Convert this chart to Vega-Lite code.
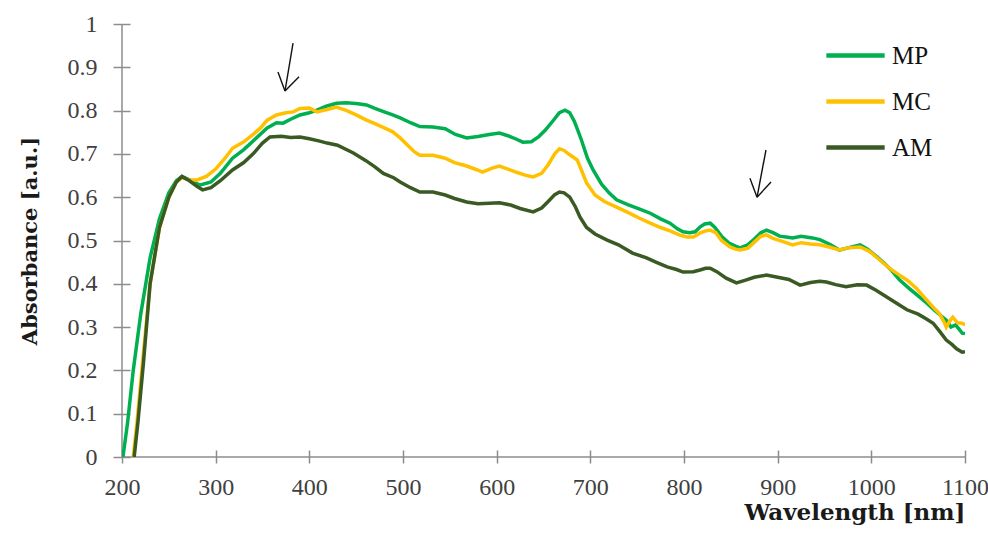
{
  "$schema": "https://vega.github.io/schema/vega-lite/v6.json",
  "width": 843,
  "height": 433,
  "autosize": {"type": "none"},
  "padding": {"left": 122, "top": 24, "right": 23, "bottom": 76},
  "background": "white",
  "config": {"view": {"stroke": null}},
  "datasets": {
    "axes": [
      {"x": 200, "y": 0, "x2": 200, "y2": 1},
      {"x": 200, "y": 0, "x2": 1100, "y2": 0}
    ],
    "arrows": [
      {"x": 382.6, "y": 0.956, "x2": 374, "y2": 0.845},
      {"x": 366.5, "y": 0.889, "x2": 374, "y2": 0.845},
      {"x": 389, "y": 0.878, "x2": 374, "y2": 0.845},
      {"x": 887.5, "y": 0.709, "x2": 878, "y2": 0.6},
      {"x": 870.4, "y": 0.644, "x2": 878, "y2": 0.6},
      {"x": 892.9, "y": 0.635, "x2": 878, "y2": 0.6}
    ],
    "spectra": [
      {"s":"MP","w":201,"a":0},{"s":"MP","w":206,"a":0.08},{"s":"MP","w":212,"a":0.2},{"s":"MP","w":220,"a":0.33},{"s":"MP","w":230,"a":0.46},{"s":"MP","w":240,"a":0.55},{"s":"MP","w":250,"a":0.61},{"s":"MP","w":258,"a":0.638},{"s":"MP","w":264,"a":0.648},{"s":"MP","w":272,"a":0.64},{"s":"MP","w":283,"a":0.628},{"s":"MP","w":295,"a":0.635},{"s":"MP","w":305,"a":0.655},{"s":"MP","w":318,"a":0.69},{"s":"MP","w":330,"a":0.71},{"s":"MP","w":340,"a":0.73},{"s":"MP","w":355,"a":0.76},{"s":"MP","w":365,"a":0.772},{"s":"MP","w":372,"a":0.771},{"s":"MP","w":380,"a":0.78},{"s":"MP","w":390,"a":0.79},{"s":"MP","w":400,"a":0.795},{"s":"MP","w":408,"a":0.801},{"s":"MP","w":418,"a":0.81},{"s":"MP","w":429,"a":0.817},{"s":"MP","w":440,"a":0.818},{"s":"MP","w":452,"a":0.816},{"s":"MP","w":461,"a":0.813},{"s":"MP","w":470,"a":0.805},{"s":"MP","w":480,"a":0.797},{"s":"MP","w":489,"a":0.79},{"s":"MP","w":497,"a":0.783},{"s":"MP","w":508,"a":0.772},{"s":"MP","w":518,"a":0.763},{"s":"MP","w":532,"a":0.762},{"s":"MP","w":545,"a":0.758},{"s":"MP","w":556,"a":0.745},{"s":"MP","w":568,"a":0.737},{"s":"MP","w":580,"a":0.74},{"s":"MP","w":592,"a":0.745},{"s":"MP","w":603,"a":0.748},{"s":"MP","w":612,"a":0.742},{"s":"MP","w":620,"a":0.735},{"s":"MP","w":628,"a":0.727},{"s":"MP","w":637,"a":0.728},{"s":"MP","w":645,"a":0.74},{"s":"MP","w":652,"a":0.755},{"s":"MP","w":660,"a":0.776},{"s":"MP","w":667,"a":0.795},{"s":"MP","w":673,"a":0.801},{"s":"MP","w":678,"a":0.795},{"s":"MP","w":683,"a":0.775},{"s":"MP","w":690,"a":0.735},{"s":"MP","w":697,"a":0.69},{"s":"MP","w":703,"a":0.663},{"s":"MP","w":712,"a":0.63},{"s":"MP","w":720,"a":0.61},{"s":"MP","w":728,"a":0.594},{"s":"MP","w":740,"a":0.583},{"s":"MP","w":752,"a":0.573},{"s":"MP","w":764,"a":0.563},{"s":"MP","w":775,"a":0.55},{"s":"MP","w":785,"a":0.54},{"s":"MP","w":793,"a":0.527},{"s":"MP","w":799,"a":0.52},{"s":"MP","w":806,"a":0.518},{"s":"MP","w":812,"a":0.52},{"s":"MP","w":817,"a":0.531},{"s":"MP","w":822,"a":0.538},{"s":"MP","w":828,"a":0.54},{"s":"MP","w":833,"a":0.53},{"s":"MP","w":840,"a":0.51},{"s":"MP","w":848,"a":0.494},{"s":"MP","w":855,"a":0.487},{"s":"MP","w":860,"a":0.483},{"s":"MP","w":868,"a":0.49},{"s":"MP","w":876,"a":0.505},{"s":"MP","w":882,"a":0.518},{"s":"MP","w":888,"a":0.524},{"s":"MP","w":895,"a":0.518},{"s":"MP","w":902,"a":0.51},{"s":"MP","w":909,"a":0.508},{"s":"MP","w":916,"a":0.506},{"s":"MP","w":925,"a":0.51},{"s":"MP","w":937,"a":0.506},{"s":"MP","w":945,"a":0.502},{"s":"MP","w":955,"a":0.492},{"s":"MP","w":966,"a":0.478},{"s":"MP","w":975,"a":0.483},{"s":"MP","w":988,"a":0.49},{"s":"MP","w":996,"a":0.48},{"s":"MP","w":1006,"a":0.462},{"s":"MP","w":1015,"a":0.445},{"s":"MP","w":1022,"a":0.43},{"s":"MP","w":1030,"a":0.409},{"s":"MP","w":1040,"a":0.39},{"s":"MP","w":1050,"a":0.372},{"s":"MP","w":1059,"a":0.356},{"s":"MP","w":1068,"a":0.338},{"s":"MP","w":1075,"a":0.325},{"s":"MP","w":1080,"a":0.316},{"s":"MP","w":1085,"a":0.3},{"s":"MP","w":1090,"a":0.305},{"s":"MP","w":1097,"a":0.286},{"s":"MP","w":1100,"a":0.285},
      {"s":"MC","w":212,"a":0},{"s":"MC","w":216,"a":0.08},{"s":"MC","w":222,"a":0.22},{"s":"MC","w":230,"a":0.4},{"s":"MC","w":240,"a":0.53},{"s":"MC","w":250,"a":0.6},{"s":"MC","w":258,"a":0.635},{"s":"MC","w":264,"a":0.645},{"s":"MC","w":272,"a":0.64},{"s":"MC","w":280,"a":0.64},{"s":"MC","w":290,"a":0.648},{"s":"MC","w":300,"a":0.665},{"s":"MC","w":310,"a":0.69},{"s":"MC","w":318,"a":0.713},{"s":"MC","w":330,"a":0.728},{"s":"MC","w":340,"a":0.745},{"s":"MC","w":348,"a":0.76},{"s":"MC","w":355,"a":0.778},{"s":"MC","w":365,"a":0.79},{"s":"MC","w":375,"a":0.795},{"s":"MC","w":383,"a":0.797},{"s":"MC","w":390,"a":0.805},{"s":"MC","w":400,"a":0.806},{"s":"MC","w":408,"a":0.797},{"s":"MC","w":418,"a":0.802},{"s":"MC","w":429,"a":0.808},{"s":"MC","w":440,"a":0.8},{"s":"MC","w":450,"a":0.79},{"s":"MC","w":461,"a":0.778},{"s":"MC","w":470,"a":0.77},{"s":"MC","w":480,"a":0.76},{"s":"MC","w":489,"a":0.751},{"s":"MC","w":497,"a":0.737},{"s":"MC","w":505,"a":0.72},{"s":"MC","w":512,"a":0.705},{"s":"MC","w":518,"a":0.697},{"s":"MC","w":532,"a":0.697},{"s":"MC","w":545,"a":0.69},{"s":"MC","w":555,"a":0.68},{"s":"MC","w":568,"a":0.672},{"s":"MC","w":578,"a":0.664},{"s":"MC","w":585,"a":0.658},{"s":"MC","w":595,"a":0.667},{"s":"MC","w":603,"a":0.672},{"s":"MC","w":612,"a":0.665},{"s":"MC","w":622,"a":0.657},{"s":"MC","w":632,"a":0.65},{"s":"MC","w":639,"a":0.647},{"s":"MC","w":648,"a":0.655},{"s":"MC","w":655,"a":0.675},{"s":"MC","w":662,"a":0.7},{"s":"MC","w":667,"a":0.712},{"s":"MC","w":672,"a":0.708},{"s":"MC","w":678,"a":0.698},{"s":"MC","w":686,"a":0.686},{"s":"MC","w":691,"a":0.66},{"s":"MC","w":696,"a":0.633},{"s":"MC","w":705,"a":0.605},{"s":"MC","w":715,"a":0.59},{"s":"MC","w":728,"a":0.577},{"s":"MC","w":740,"a":0.565},{"s":"MC","w":752,"a":0.552},{"s":"MC","w":764,"a":0.54},{"s":"MC","w":775,"a":0.53},{"s":"MC","w":785,"a":0.522},{"s":"MC","w":795,"a":0.513},{"s":"MC","w":803,"a":0.508},{"s":"MC","w":810,"a":0.508},{"s":"MC","w":817,"a":0.517},{"s":"MC","w":823,"a":0.522},{"s":"MC","w":828,"a":0.524},{"s":"MC","w":834,"a":0.518},{"s":"MC","w":840,"a":0.5},{"s":"MC","w":849,"a":0.485},{"s":"MC","w":855,"a":0.48},{"s":"MC","w":860,"a":0.478},{"s":"MC","w":868,"a":0.482},{"s":"MC","w":876,"a":0.498},{"s":"MC","w":882,"a":0.51},{"s":"MC","w":888,"a":0.513},{"s":"MC","w":895,"a":0.505},{"s":"MC","w":905,"a":0.498},{"s":"MC","w":916,"a":0.49},{"s":"MC","w":925,"a":0.495},{"s":"MC","w":935,"a":0.492},{"s":"MC","w":945,"a":0.49},{"s":"MC","w":955,"a":0.485},{"s":"MC","w":966,"a":0.478},{"s":"MC","w":975,"a":0.483},{"s":"MC","w":988,"a":0.485},{"s":"MC","w":998,"a":0.475},{"s":"MC","w":1009,"a":0.455},{"s":"MC","w":1020,"a":0.435},{"s":"MC","w":1030,"a":0.42},{"s":"MC","w":1038,"a":0.409},{"s":"MC","w":1048,"a":0.39},{"s":"MC","w":1058,"a":0.365},{"s":"MC","w":1066,"a":0.346},{"s":"MC","w":1073,"a":0.33},{"s":"MC","w":1078,"a":0.31},{"s":"MC","w":1080,"a":0.3},{"s":"MC","w":1084,"a":0.315},{"s":"MC","w":1087,"a":0.323},{"s":"MC","w":1092,"a":0.31},{"s":"MC","w":1097,"a":0.309},{"s":"MC","w":1100,"a":0.305},
      {"s":"AM","w":213,"a":0},{"s":"AM","w":217,"a":0.08},{"s":"AM","w":223,"a":0.22},{"s":"AM","w":230,"a":0.4},{"s":"AM","w":240,"a":0.53},{"s":"AM","w":250,"a":0.6},{"s":"AM","w":258,"a":0.635},{"s":"AM","w":264,"a":0.648},{"s":"AM","w":272,"a":0.638},{"s":"AM","w":280,"a":0.625},{"s":"AM","w":286,"a":0.617},{"s":"AM","w":295,"a":0.622},{"s":"AM","w":305,"a":0.638},{"s":"AM","w":318,"a":0.663},{"s":"AM","w":330,"a":0.68},{"s":"AM","w":340,"a":0.7},{"s":"AM","w":350,"a":0.725},{"s":"AM","w":358,"a":0.739},{"s":"AM","w":370,"a":0.741},{"s":"AM","w":380,"a":0.738},{"s":"AM","w":390,"a":0.739},{"s":"AM","w":400,"a":0.735},{"s":"AM","w":410,"a":0.73},{"s":"AM","w":419,"a":0.725},{"s":"AM","w":430,"a":0.72},{"s":"AM","w":447,"a":0.702},{"s":"AM","w":460,"a":0.685},{"s":"AM","w":470,"a":0.67},{"s":"AM","w":479,"a":0.655},{"s":"AM","w":490,"a":0.645},{"s":"AM","w":497,"a":0.635},{"s":"AM","w":508,"a":0.622},{"s":"AM","w":518,"a":0.612},{"s":"AM","w":532,"a":0.612},{"s":"AM","w":545,"a":0.605},{"s":"AM","w":555,"a":0.597},{"s":"AM","w":568,"a":0.589},{"s":"AM","w":580,"a":0.585},{"s":"AM","w":592,"a":0.586},{"s":"AM","w":603,"a":0.587},{"s":"AM","w":615,"a":0.582},{"s":"AM","w":625,"a":0.574},{"s":"AM","w":639,"a":0.566},{"s":"AM","w":648,"a":0.575},{"s":"AM","w":655,"a":0.59},{"s":"AM","w":662,"a":0.606},{"s":"AM","w":667,"a":0.612},{"s":"AM","w":672,"a":0.61},{"s":"AM","w":678,"a":0.6},{"s":"AM","w":684,"a":0.578},{"s":"AM","w":689,"a":0.554},{"s":"AM","w":696,"a":0.53},{"s":"AM","w":705,"a":0.515},{"s":"AM","w":718,"a":0.501},{"s":"AM","w":730,"a":0.49},{"s":"AM","w":745,"a":0.471},{"s":"AM","w":760,"a":0.46},{"s":"AM","w":770,"a":0.45},{"s":"AM","w":782,"a":0.439},{"s":"AM","w":792,"a":0.433},{"s":"AM","w":799,"a":0.427},{"s":"AM","w":810,"a":0.428},{"s":"AM","w":817,"a":0.432},{"s":"AM","w":823,"a":0.436},{"s":"AM","w":828,"a":0.436},{"s":"AM","w":835,"a":0.428},{"s":"AM","w":845,"a":0.413},{"s":"AM","w":856,"a":0.402},{"s":"AM","w":865,"a":0.408},{"s":"AM","w":875,"a":0.415},{"s":"AM","w":888,"a":0.42},{"s":"AM","w":900,"a":0.415},{"s":"AM","w":912,"a":0.41},{"s":"AM","w":924,"a":0.397},{"s":"AM","w":935,"a":0.403},{"s":"AM","w":945,"a":0.406},{"s":"AM","w":952,"a":0.404},{"s":"AM","w":962,"a":0.398},{"s":"AM","w":973,"a":0.393},{"s":"AM","w":985,"a":0.398},{"s":"AM","w":995,"a":0.397},{"s":"AM","w":1005,"a":0.385},{"s":"AM","w":1016,"a":0.37},{"s":"AM","w":1027,"a":0.355},{"s":"AM","w":1038,"a":0.34},{"s":"AM","w":1050,"a":0.33},{"s":"AM","w":1058,"a":0.32},{"s":"AM","w":1066,"a":0.309},{"s":"AM","w":1073,"a":0.29},{"s":"AM","w":1080,"a":0.27},{"s":"AM","w":1086,"a":0.26},{"s":"AM","w":1091,"a":0.25},{"s":"AM","w":1097,"a":0.242},{"s":"AM","w":1100,"a":0.243}
    ]
  },
  "layer": [
    {
      "data": {"name": "axes"},
      "mark": {"type": "rule", "color": "#8c8c8c", "strokeWidth": 1.5},
      "encoding": {
        "x": {
          "field": "x", "type": "quantitative",
          "scale": {"domain": [200, 1100], "nice": false},
          "axis": {
            "title": "Wavelength [nm]",
            "values": [200, 300, 400, 500, 600, 700, 800, 900, 1000, 1100],
            "format": "d", "labelFlush": false, "labelOverlap": false,
            "domain": false, "grid": false,
            "offset": -7, "tickSize": 13, "tickColor": "#8c8c8c", "tickWidth": 1.5,
            "labelFont": "Liberation Serif", "labelFontSize": 24, "labelColor": "#404040", "labelPadding": 12,
            "titleFont": "DejaVu Serif", "titleFontSize": 23, "titleFontWeight": "bold", "titleColor": "#1a1a1a",
            "titleAnchor": "end", "titlePadding": 2
          }
        },
        "y": {
          "field": "y", "type": "quantitative",
          "scale": {"domain": [0, 1], "nice": false},
          "axis": {
            "title": "Absorbance [a.u.]",
            "values": [0, 0.1, 0.2, 0.3, 0.4, 0.5, 0.6, 0.7, 0.8, 0.9, 1],
            "format": "~g", "labelFlush": false,
            "domain": false, "grid": false,
            "offset": -8, "tickSize": 17, "tickColor": "#8c8c8c", "tickWidth": 1.5,
            "labelFont": "Liberation Serif", "labelFontSize": 24, "labelColor": "#404040", "labelPadding": 16,
            "titleFont": "DejaVu Serif", "titleFontSize": 21, "titleFontWeight": "bold", "titleColor": "#1a1a1a",
            "titlePadding": 27
          }
        },
        "x2": {"field": "x2"},
        "y2": {"field": "y2"}
      }
    },
    {
      "data": {"name": "spectra"},
      "mark": {"type": "line", "strokeWidth": 3.5, "clip": true},
      "encoding": {
        "x": {"field": "w", "type": "quantitative"},
        "y": {"field": "a", "type": "quantitative"},
        "color": {
          "field": "s", "type": "nominal",
          "scale": {"domain": ["MP", "MC", "AM"], "range": ["#00b050", "#ffc000", "#3a5a24"]},
          "legend": {
            "title": null, "orient": "none", "legendX": 702, "legendY": 0,
            "symbolType": "stroke", "symbolSize": 3400, "symbolStrokeWidth": 4.5,
            "labelFont": "Liberation Serif", "labelFontSize": 25, "labelColor": "#111111",
            "labelOffset": 5, "rowPadding": 1, "padding": 0
          }
        },
        "order": {"field": "w", "type": "quantitative"}
      }
    },
    {
      "data": {"name": "arrows"},
      "mark": {"type": "rule", "color": "#111111", "strokeWidth": 1.4},
      "encoding": {
        "x": {"field": "x", "type": "quantitative"},
        "y": {"field": "y", "type": "quantitative"},
        "x2": {"field": "x2"},
        "y2": {"field": "y2"}
      }
    }
  ]
}
